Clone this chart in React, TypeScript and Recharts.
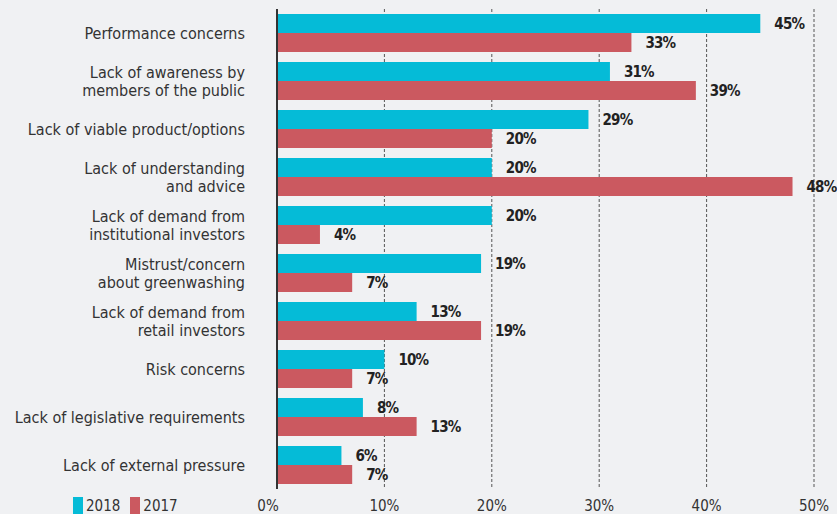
import React from "react";
import { BarChart, Bar, XAxis, YAxis, CartesianGrid, LabelList } from "recharts";

const categories = [
  "Performance concerns",
  "Lack of awareness by\nmembers of the public",
  "Lack of viable product/options",
  "Lack of understanding\nand advice",
  "Lack of demand from\ninstitutional investors",
  "Mistrust/concern\nabout greenwashing",
  "Lack of demand from\nretail investors",
  "Risk concerns",
  "Lack of legislative requirements",
  "Lack of external pressure",
];
const values2018 = [45, 31, 29, 20, 20, 19, 13, 10, 8, 6];
const values2017 = [33, 39, 20, 48, 4, 7, 19, 7, 13, 7];
const xTicks = [0, 10, 20, 30, 40, 50];
const legendItems = [
  { label: "2018", key: "y2018" },
  { label: "2017", key: "y2017" },
];

const data = categories.map((c, i) => ({ name: c, y2018: values2018[i], y2017: values2017[i] }));

const FONT = "'Liberation Sans Narrow', 'DejaVu Sans Condensed', 'Roboto Condensed', sans-serif";
const CYAN = "#05bbd7";
const RED = "#cb5960";
const BG = "#f0f1f3";
const COLORS: Record<string, string> = { y2018: CYAN, y2017: RED };

const YTick = (props: any) => {
  const { x, y, payload } = props;
  const lines = String(payload.value).split("\n");
  const lh = 18;
  return (
    <text x={x} y={y} textAnchor="end" fontFamily={FONT} fontSize={16} fill="#333">
      {lines.map((l, i) => (
        <tspan key={i} x={x} dy={i === 0 ? -((lines.length - 1) * lh) / 2 + 5.5 : lh}>
          {l}
        </tspan>
      ))}
    </text>
  );
};

const XTick = (props: any) => {
  const { x, y, payload } = props;
  const dx = payload.value === 0 ? -9 : 0;
  return (
    <text x={x + dx} y={y + 22} textAnchor="middle" fontFamily={FONT} fontSize={15} fill="#333">
      {payload.value}%
    </text>
  );
};

const fmt = (v: any) => `${v}%`;

export default function App() {
  return (
    <div style={{ position: "absolute", left: 0, top: 0, width: 837, height: 514, background: BG, overflow: "hidden" }}>
      <style>{"body{margin:0;}"}</style>
      <BarChart
        width={837}
        height={514}
        data={data}
        layout="vertical"
        margin={{ top: 9, right: 23, bottom: 0, left: 0 }}
        barCategoryGap={10}
        barGap={0}
      >
        <CartesianGrid horizontal={false} vertical={true} stroke="#555" strokeDasharray="3 2" />
        <XAxis
          type="number"
          domain={[0, 50]}
          ticks={xTicks}
          axisLine={false}
          tickLine={false}
          tickSize={0}
          tickMargin={0}
          height={25}
          tick={<XTick />}
          interval={0}
        />
        <YAxis
          type="category"
          dataKey="name"
          width={277}
          axisLine={{ stroke: "#333", strokeWidth: 2 }}
          tickLine={false}
          tickSize={0}
          tickMargin={32}
          tick={<YTick />}
          interval={0}
        />
        <Bar dataKey="y2018" fill={CYAN} barSize={19} isAnimationActive={false}>
          <LabelList dataKey="y2018" position="right" offset={14} formatter={fmt} fill="#222" fontFamily={FONT} fontSize={15} fontWeight="bold" letterSpacing={-0.8} />
        </Bar>
        <Bar dataKey="y2017" fill={RED} barSize={19} isAnimationActive={false}>
          <LabelList dataKey="y2017" position="right" offset={14} formatter={fmt} fill="#222" fontFamily={FONT} fontSize={15} fontWeight="bold" letterSpacing={-0.8} />
        </Bar>
      </BarChart>
      <div
        style={{
          position: "absolute",
          left: 73,
          top: 497,
          display: "flex",
          alignItems: "flex-start",
          fontFamily: FONT,
          fontSize: 15,
          color: "#333",
        }}
      >
        {legendItems.map((it) => (
          <div key={it.key} style={{ display: "flex", alignItems: "flex-start", marginRight: 10 }}>
            <div style={{ width: 10, height: 18, background: COLORS[it.key], marginRight: 3 }} />
            <span style={{ lineHeight: "15px", marginTop: 2 }}>{it.label}</span>
          </div>
        ))}
      </div>
    </div>
  );
}
